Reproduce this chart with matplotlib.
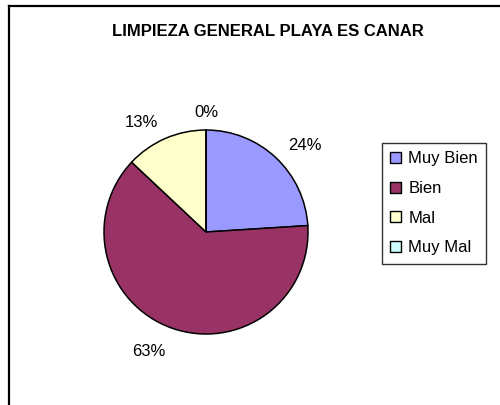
import numpy as np
import matplotlib.pyplot as plt
from matplotlib.patches import Patch
from matplotlib.lines import Line2D

plt.rcParams['font.family'] = ['Liberation Sans', 'DejaVu Sans']

# datos
categorias = ['Muy Bien', 'Bien', 'Mal', 'Muy Mal']
valores = [24, 63, 13, 0]
colores = ['#9999FF', '#993366', '#FFFFCC', '#CCFFFF']
titulo = 'LIMPIEZA GENERAL PLAYA ES CANAR'

W, H = 500, 405
fig = plt.figure(figsize=(W / 100, H / 100), dpi=100)

# marco (solo arriba e izquierda visibles)
fig.add_artist(Line2D([9 / W, 1], [1 - 5.5 / H, 1 - 5.5 / H], color='black', lw=1.6))
fig.add_artist(Line2D([9 / W, 9 / W], [0, 1 - 5.5 / H], color='black', lw=1.6))

fig.text(268 / W, 1 - 32 / H, titulo, ha='center', va='center',
         fontsize=12, fontweight='bold')

# tarta
cx, cy, r = 206, 232, 102
ax = fig.add_axes([(cx - r) / W, (H - cy - r) / H, 2 * r / W, 2 * r / H])
wedges, texts, autotexts = ax.pie(
    valores, colors=colores, startangle=90, counterclock=False,
    autopct='%1.0f%%', pctdistance=1.17,
    wedgeprops=dict(edgecolor='black', linewidth=1.1),
    textprops=dict(fontsize=12, color='black'))
ax.set_xlim(-1, 1)
ax.set_ylim(-1, 1)
ax.set_aspect('equal')

# etiquetas al estilo Excel: ancladas por el borde mas cercano a la tarta
for w, t in zip(wedges, autotexts):
    t.set_clip_on(False)
    ang = np.deg2rad((w.theta1 + w.theta2) / 2)
    c, s = np.cos(ang), np.sin(ang)
    if c > 0.1:
        t.set_ha('left')
    elif c < -0.1:
        t.set_ha('right')
    if s < -0.5:
        t.set_va('top')

# leyenda
handles = [Patch(facecolor=c, edgecolor='black', linewidth=1.0) for c in colores]
leg = fig.legend(handles, categorias, loc='upper left',
                 bbox_to_anchor=(382 / W, 1 - 143 / H), fontsize=12,
                 frameon=True, fancybox=False, handlelength=0.62,
                 handleheight=0.62, handletextpad=0.45, labelspacing=0.88,
                 borderpad=0.5, borderaxespad=0)
leg.get_frame().set_edgecolor('black')
leg.get_frame().set_linewidth(1.0)

fig.savefig('out.png', dpi=100)
